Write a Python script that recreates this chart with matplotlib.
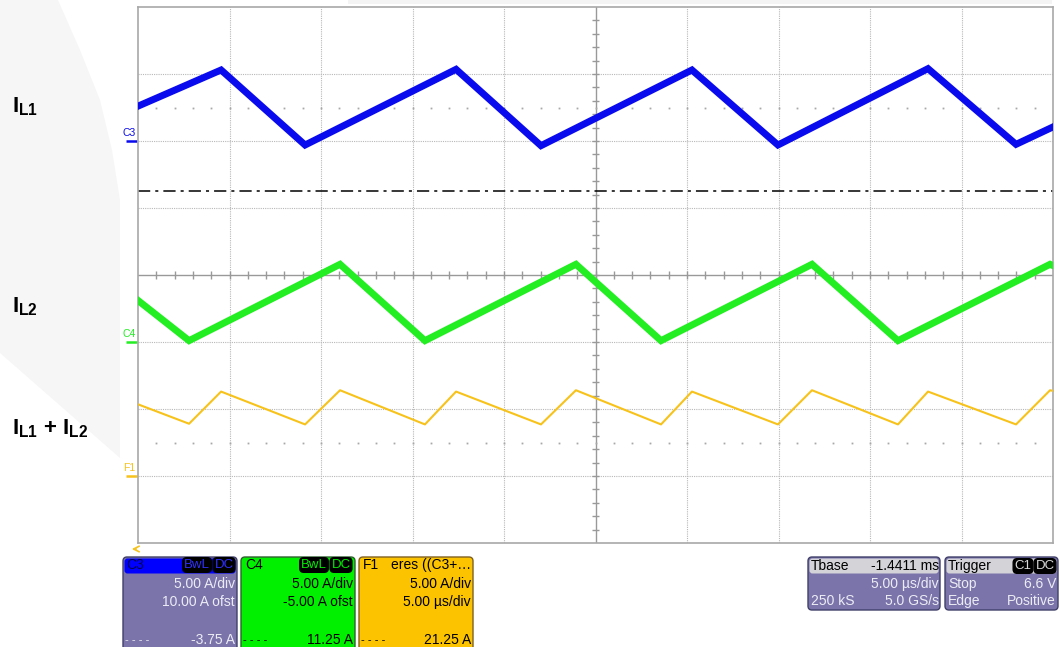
import numpy as np
import matplotlib.pyplot as plt
from matplotlib.patches import FancyBboxPatch, Polygon, Rectangle
from matplotlib.transforms import blended_transform_factory

plt.rcParams['font.family'] = ['Liberation Sans', 'DejaVu Sans']
plt.rcParams['mathtext.fontset'] = 'custom'
plt.rcParams['mathtext.rm'] = 'Liberation Sans'
plt.rcParams['mathtext.bf'] = 'Liberation Sans:bold'

# time in us (5 us/div, 10 div), level in screen divisions (-4..4)
t_c3 = [0, 4.54, 9.13, 17.38, 22.02, 30.27, 34.97, 43.17, 47.98, 50]
v_c3 = [2.52, 3.06, 1.94, 3.07, 1.93, 3.06, 1.94, 3.08, 1.95, 2.21]

t_c4 = [0, 2.79, 11.04, 15.68, 23.93, 28.58, 36.83, 41.53, 49.84, 50]
v_c4 = [-0.38, -0.98, 0.16, -0.98, 0.16, -0.98, 0.16, -0.98, 0.16, 0.14]

t_f1 = [0, 2.79, 4.54, 9.13, 11.04, 15.68, 17.38, 22.02, 23.93, 28.58,
        30.27, 34.97, 36.83, 41.53, 43.17, 47.98, 49.84, 50]
v_f1 = [-1.93, -2.22, -1.74, -2.23, -1.72, -2.23, -1.74, -2.23, -1.72, -2.23,
        -1.74, -2.23, -1.72, -2.23, -1.74, -2.23, -1.72, -1.73]

# ground markers (div) and trigger level line
lvl_c3, lvl_c4, lvl_f1 = 2, -1, -3
trig_lvl = 1.254

col_c3 = '#0a0aee'
col_c4 = '#22ee22'
col_f1 = '#f7c21a'

W, H = 1060, 647
fig = plt.figure(figsize=(W / 100, H / 100), dpi=100)

deco = fig.add_axes([0, 0, 1, 1])
deco.set_xlim(0, W)
deco.set_ylim(H, 0)
deco.axis('off')
deco.set_zorder(1)

# faint watermark shape on the left
deco.add_patch(Polygon([(0, 0), (58, 0), (80, 50), (100, 100), (112, 150),
                        (120, 200), (120, 458), (0, 353)],
                       closed=True, fc='#f6f6f6', ec='none', zorder=0))
deco.add_patch(Rectangle((348, 0), 704, 4, fc='#f4f4f4', ec='none', zorder=0))

ax = fig.add_axes([138 / W, (H - 543) / H, 915 / W, 536 / H])
ax.set_zorder(2)
ax.set_xlim(0, 50)
ax.set_ylim(-4, 4)
ax.set_xticks([])
ax.set_yticks([])
for s in ax.spines.values():
    s.set_color('#a8a8a8')
    s.set_linewidth(1.2)

# grid
for x in range(5, 50, 5):
    if x != 25:
        ax.axvline(x, color='#b8b8b8', lw=0.8, ls=(0, (1, 1)), zorder=1)
for y in [-3, -2, -1, 1, 2, 3]:
    ax.axhline(y, color='#b8b8b8', lw=0.8, ls=(0, (1, 1)), zorder=1)

# centre cross with sub-division ticks
ax.axvline(25, color='#999999', lw=1, zorder=1)
ax.axhline(0, color='#999999', lw=1, zorder=1)
xt = np.arange(1, 50, 1)
ax.vlines(xt, -0.055, 0.055, color='#999999', lw=1, zorder=1)
yt = np.arange(-3.8, 4, 0.2)
ax.hlines(yt, 25 - 0.17, 25 + 0.17, color='#999999', lw=1, zorder=1)
for yy in [2.5, -2.5]:
    ax.plot(xt, np.full(len(xt), yy), ls='none', marker='s', ms=1.3,
            mec='none', color='#a8a8a8', zorder=1)

# trigger level line
ax.axhline(trig_lvl, color='black', lw=1.1, ls=(0, (8, 3.3, 2, 3.3)), zorder=2)

# traces
ax.plot(t_f1, v_f1, color=col_f1, lw=1.5, zorder=3)
ax.plot(t_c4, v_c4, color=col_c4, lw=5, zorder=4, solid_joinstyle='miter')
ax.plot(t_c3, v_c3, color=col_c3, lw=5, zorder=5, solid_joinstyle='miter')

# channel ground markers on the left edge
tr = blended_transform_factory(ax.transAxes, ax.transData)
for name, lvl, c in [('C3', lvl_c3, col_c3), ('C4', lvl_c4, col_c4), ('F1', lvl_f1, col_f1)]:
    ax.plot([-0.013, -0.001], [lvl, lvl], color=c, lw=1.8, transform=tr,
            clip_on=False, solid_capstyle='butt')
    ax.text(-0.0165, lvl + 0.05, name, color=c, fontsize=7.5, transform=tr,
            ha='left', va='bottom', clip_on=False)

# LeCroy logo
deco.text(988, 25, 'LeCroy', fontsize=11, color='#4a4a4a', ha='left', va='baseline')
deco.plot([988, 1048], [28, 28], color='#4a4a4a', lw=1.3)

# yellow arrow under the grid
deco.annotate('', xy=(129, 549), xytext=(139, 549),
              arrowprops=dict(arrowstyle='->', color=col_f1, lw=1.2))

# trace names
deco.text(12, 112, r'$\mathbf{I_{L1}}$', fontsize=16, ha='left', va='baseline')
deco.text(12, 312, r'$\mathbf{I_{L2}}$', fontsize=16, ha='left', va='baseline')
deco.text(12, 434, r'$\mathbf{I_{L1}}$ $\mathbf{+}$ $\mathbf{I_{L2}}$', fontsize=16,
          ha='left', va='baseline')


def panel(x0, x1, y0, y1, body, head, head_h, edge='#40406a'):
    deco.add_patch(FancyBboxPatch((x0, y0), x1 - x0, y1 - y0,
                                  boxstyle='round,pad=0,rounding_size=4',
                                  fc=body, ec=edge, lw=1, zorder=2))
    deco.add_patch(FancyBboxPatch((x0 + 1.5, y0 + 1.5), x1 - x0 - 3, head_h,
                                  boxstyle='round,pad=0,rounding_size=3',
                                  fc=head, ec='none', zorder=3))


def tag(x, y, s, fg):
    deco.text(x, y, s, fontsize=9.5, color=fg, ha='center', va='center', zorder=5,
              bbox=dict(boxstyle='round,pad=0.1,rounding_size=0.3', fc='black', ec='black'))


fs = 10
purple = '#7a74aa'
light = '#ececf4'

# C3
panel(123, 237, 557, 652, purple, '#0000ff', 15)
deco.text(126, 565, 'C3', fontsize=fs, color='#000050', va='center', zorder=4)
tag(197, 565, 'BwL', '#3030ff')
tag(224, 565, 'DC', '#3030ff')
deco.text(235, 584, '5.00 A/div', fontsize=fs, color=light, ha='right', va='center', zorder=4)
deco.text(235, 602, '10.00 A ofst', fontsize=fs, color=light, ha='right', va='center', zorder=4)
deco.text(125, 640, '- - - -', fontsize=8, color=light, ha='left', va='center', zorder=4)
deco.text(235, 640, '-3.75 A', fontsize=fs, color=light, ha='right', va='center', zorder=4)

# C4
panel(241, 355, 557, 652, '#00f000', '#00f000', 15, edge='#306030')
deco.text(245, 565, 'C4', fontsize=fs, color='black', va='center', zorder=4)
tag(314, 565, 'BwL', '#00f000')
tag(341, 565, 'DC', '#00f000')
deco.text(353, 584, '5.00 A/div', fontsize=fs, color='black', ha='right', va='center', zorder=4)
deco.text(353, 602, '-5.00 A ofst', fontsize=fs, color='black', ha='right', va='center', zorder=4)
deco.text(243, 640, '- - - -', fontsize=8, color='black', ha='left', va='center', zorder=4)
deco.text(353, 640, '11.25 A', fontsize=fs, color='black', ha='right', va='center', zorder=4)

# F1
panel(359, 473, 557, 652, '#fbc300', '#fbc300', 15, edge='#806020')
deco.text(363, 565, 'F1', fontsize=fs, color='black', va='center', zorder=4)
deco.text(471, 565, 'eres ((C3+…', fontsize=fs, color='black', ha='right', va='center', zorder=4)
deco.text(471, 584, '5.00 A/div', fontsize=fs, color='black', ha='right', va='center', zorder=4)
deco.text(471, 602, '5.00 µs/div', fontsize=fs, color='black', ha='right', va='center', zorder=4)
deco.text(361, 640, '- - - -', fontsize=8, color='black', ha='left', va='center', zorder=4)
deco.text(471, 640, '21.25 A', fontsize=fs, color='black', ha='right', va='center', zorder=4)

# Timebase
panel(808, 940, 557, 610, purple, '#d4d4d8', 15)
deco.text(811, 566, 'Tbase', fontsize=fs, color='black', va='center', zorder=4)
deco.text(939, 566, '-1.4411 ms', fontsize=fs, color='black', ha='right', va='center', zorder=4)
deco.text(939, 584, '5.00 µs/div', fontsize=fs, color=light, ha='right', va='center', zorder=4)
deco.text(811, 601, '250 kS', fontsize=fs, color=light, ha='left', va='center', zorder=4)
deco.text(939, 601, '5.0 GS/s', fontsize=fs, color=light, ha='right', va='center', zorder=4)

# Trigger
panel(945, 1058, 557, 610, purple, '#d4d4d8', 15)
deco.text(948, 566, 'Trigger', fontsize=fs, color='black', va='center', zorder=4)
tag(1023, 566, 'C1', '#d8d8d8')
tag(1045, 566, 'DC', '#d8d8d8')
deco.text(948, 584, 'Stop', fontsize=fs, color=light, ha='left', va='center', zorder=4)
deco.text(1056, 584, '6.6 V', fontsize=fs, color=light, ha='right', va='center', zorder=4)
deco.text(948, 601, 'Edge', fontsize=fs, color=light, ha='left', va='center', zorder=4)
deco.text(1056, 601, 'Positive', fontsize=fs, color=light, ha='right', va='center', zorder=4)

fig.savefig('out.png', dpi=100, facecolor='white')
